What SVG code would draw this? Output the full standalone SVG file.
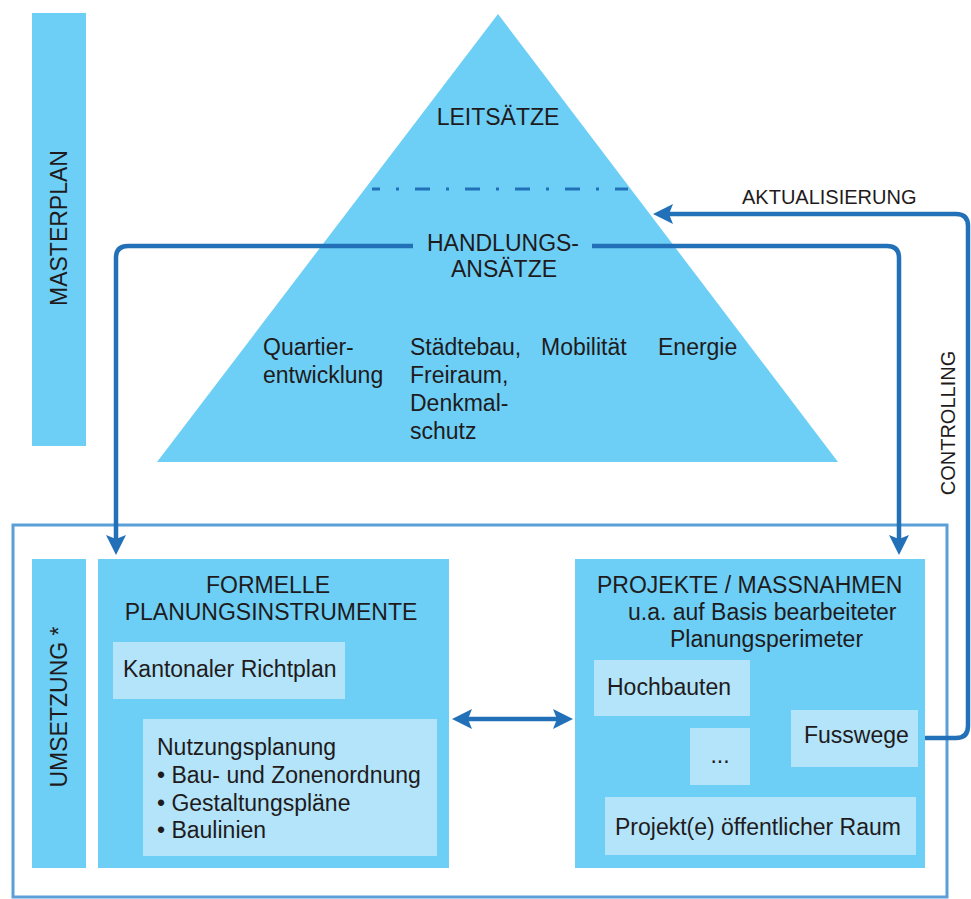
<svg xmlns="http://www.w3.org/2000/svg" width="971" height="899" viewBox="0 0 971 899">
  <style>
    .fill { fill: #6dcff6; }
    .inner { fill: #b3e4f9; }
    .t { font-family: "Liberation Sans", Arial, sans-serif; font-size: 23px; fill: #1f1b1c; }
    .ts { font-family: "Liberation Sans", Arial, sans-serif; font-size: 20px; fill: #1f1b1c; }
    .mid { text-anchor: middle; }
    .conn { fill: none; stroke: #2271b8; stroke-width: 4.5; }
    .frame { fill: none; stroke: #5b9fd8; stroke-width: 3; }
  </style>
  <defs>
    <marker id="head" viewBox="0 0 20 20" refX="10" refY="10" markerWidth="20" markerHeight="20" markerUnits="userSpaceOnUse" orient="auto-start-reverse">
      <path d="M0,0 L20,10 L0,20 L4,10 Z" fill="#2271b8"/>
    </marker>
  </defs>
  <rect width="971" height="899" fill="#ffffff"/>

  <!-- Masterplan side bar -->
  <g id="masterplan">
    <rect class="fill" x="32" y="13" width="54" height="433"/>
    <text class="t mid" transform="translate(67,228) rotate(-90)">MASTERPLAN</text>
  </g>

  <!-- Pyramid -->
  <g id="pyramid">
    <polygon class="fill" points="498,14 838,462 157,462"/>
    <text class="t mid" x="498" y="125">LEITSÄTZE</text>
    <line x1="372" y1="189" x2="628" y2="189" stroke="#2271b8" stroke-width="3" stroke-dasharray="15 16 3 16" stroke-dashoffset="7"/>
    <text class="t mid" x="503" y="251">HANDLUNGS-</text>
    <text class="t mid" x="504" y="277">ANSÄTZE</text>
    <text class="t" x="263" y="355">Quartier-</text>
    <text class="t" x="263" y="383">entwicklung</text>
    <text class="t" x="410" y="355">Städtebau,</text>
    <text class="t" x="410" y="383">Freiraum,</text>
    <text class="t" x="410" y="411">Denkmal-</text>
    <text class="t" x="410" y="439">schutz</text>
    <text class="t" x="541" y="355">Mobilität</text>
    <text class="t" x="658" y="355">Energie</text>
  </g>

  <!-- Implementation frame -->
  <g id="umsetzung-frame">
    <rect class="frame" x="13" y="525" width="934" height="372"/>
  </g>

  <g id="umsetzung">
    <rect class="fill" x="32" y="559" width="54" height="309"/>
    <text class="t mid" transform="translate(67,707) rotate(-90)">UMSETZUNG *</text>
  </g>

  <!-- Formal planning instruments -->
  <g id="formelle">
    <rect class="fill" x="98" y="559" width="351" height="309"/>
    <text class="t mid" x="268" y="593">FORMELLE</text>
    <text class="t mid" x="271" y="620">PLANUNGSINSTRUMENTE</text>
  </g>
  <g id="richtplan">
    <rect class="inner" x="113" y="642" width="232" height="57"/>
    <text class="t" x="123" y="677">Kantonaler Richtplan</text>
  </g>
  <g id="nutzungsplanung">
    <rect class="inner" x="143" y="719" width="294" height="137"/>
    <text class="t" x="157" y="755">Nutzungsplanung</text>
    <text class="t" x="157" y="783">• Bau- und Zonenordnung</text>
    <text class="t" x="157" y="811">• Gestaltungspläne</text>
    <text class="t" x="157" y="838">• Baulinien</text>
  </g>

  <!-- Projects / measures -->
  <g id="projekte">
    <rect class="fill" x="575" y="559" width="350" height="309"/>
    <text class="t" x="597" y="593">PROJEKTE / MASSNAHMEN</text>
    <text class="t" x="628" y="620">u.a. auf Basis bearbeiteter</text>
    <text class="t" x="670" y="647">Planungsperimeter</text>
  </g>
  <g id="hochbauten">
    <rect class="inner" x="594" y="660" width="156" height="56"/>
    <text class="t" x="607" y="695">Hochbauten</text>
  </g>
  <g id="weitere">
    <rect class="inner" x="690" y="728" width="60" height="57"/>
    <text class="t mid" x="720" y="763">...</text>
  </g>
  <g id="fusswege">
    <rect class="inner" x="791" y="710" width="127" height="57"/>
    <text class="t" x="804" y="743">Fusswege</text>
  </g>
  <g id="oeffentlicher-raum">
    <rect class="inner" x="605" y="797" width="311" height="58"/>
    <text class="t" x="615" y="835">Projekt(e) öffentlicher Raum</text>
  </g>

  <!-- Connectors -->
  <g id="connectors">
    <path class="conn" d="M413,246 H128 Q116,246 116,258 V545" marker-end="url(#head)"/>
    <path class="conn" d="M592,246 H887 Q899,246 899,258 V545" marker-end="url(#head)"/>
    <path class="conn" d="M925,738 H956 Q968,738 968,726 V226 Q968,214 956,214 H663" marker-end="url(#head)"/>
    <path class="conn" d="M462,719 H563" marker-start="url(#head)" marker-end="url(#head)"/>
    <text class="ts" x="742" y="204">AKTUALISIERUNG</text>
    <text class="ts mid" transform="translate(955,423) rotate(-90)">CONTROLLING</text>
  </g>
</svg>
